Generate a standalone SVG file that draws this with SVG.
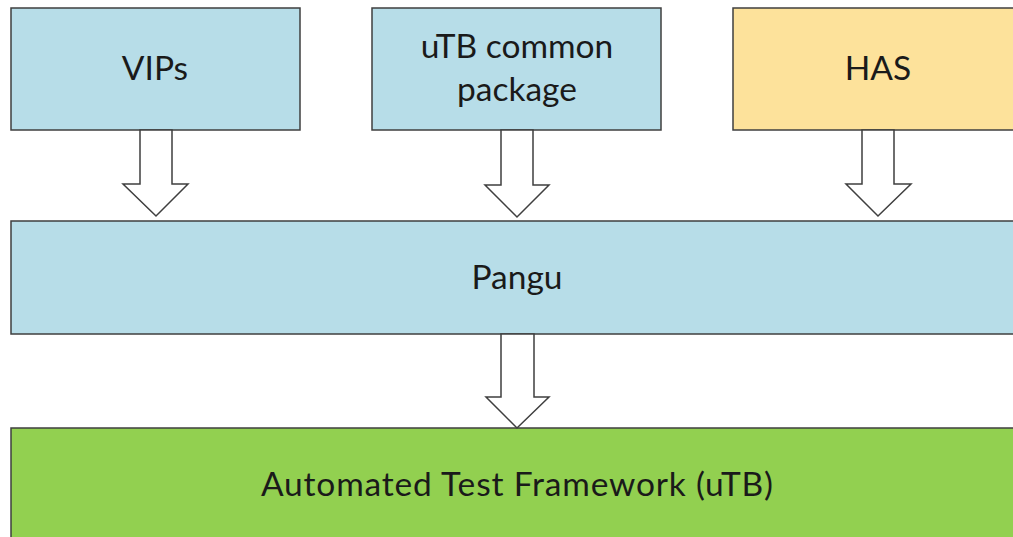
<svg xmlns="http://www.w3.org/2000/svg" width="1013" height="537" viewBox="0 0 1013 537">
<style>
.box{stroke:#3f3f3f;stroke-width:1.5}
.blue{fill:#b7dde8}
.yellow{fill:#fde29b}
.green{fill:#92d050}
.lbl{font-family:Lato,"Liberation Sans",sans-serif;font-size:33.5px;fill:#1a1a1a;text-anchor:middle}
.arr{fill:#ffffff;stroke:#3f3f3f;stroke-width:1.5;stroke-linejoin:miter}
</style>
<rect width="1013" height="537" fill="#ffffff"/>
<g id="vips"><rect class="box blue" x="11" y="8" width="289" height="122"/><text class="lbl" x="155" y="80">VIPs</text></g>
<g id="utb-common"><rect class="box blue" x="372" y="8" width="289" height="122"/><text class="lbl" x="517" y="58">uTB common</text><text class="lbl" x="517" y="101">package</text></g>
<g id="has"><rect class="box yellow" x="733" y="8" width="300" height="122"/><text class="lbl" x="878" y="80">HAS</text></g>
<g id="pangu"><rect class="box blue" x="11" y="221" width="1022" height="113"/><text class="lbl" x="517" y="289">Pangu</text></g>
<g id="framework"><rect class="box green" x="11" y="428" width="1022" height="130"/><text class="lbl" x="517" y="496" textLength="512" lengthAdjust="spacing">Automated Test Framework (uTB)</text></g>
<g id="connectors">
<polygon class="arr" points="140,130 172,130 172,184 188,184 156,216 123,184 140,184"/>
<polygon class="arr" points="501,130 533,130 533,185 549,185 517,217 485,185 501,185"/>
<polygon class="arr" points="862,130 894,130 894,184 911,184 878,216 846,184 862,184"/>
<polygon class="arr" points="501,334 534,334 534,397 549,397 517,428 486,397 501,397"/>
</g>
</svg>
